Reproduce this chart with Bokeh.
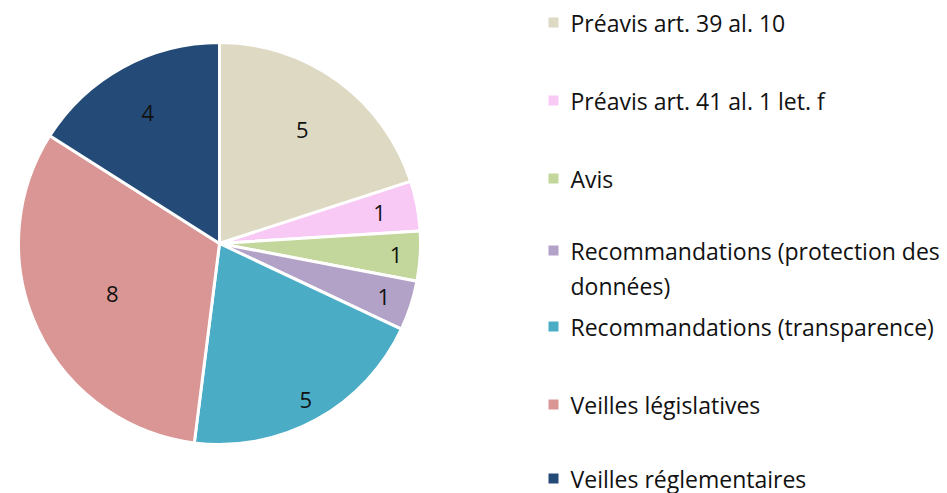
import math
from bokeh.plotting import figure
from bokeh.models import Range1d, ColumnDataSource
from bokeh.core.properties import value
from bokeh.embed import file_html
from bokeh.resources import INLINE

# ---- data ----
categories = [
    "Préavis art. 39 al. 10",
    "Préavis art. 41 al. 1 let. f",
    "Avis",
    "Recommandations (protection des données)",
    "Recommandations (transparence)",
    "Veilles législatives",
    "Veilles réglementaires",
]
counts = [5, 1, 1, 1, 5, 8, 4]
legend_lines = [
    ["Préavis art. 39 al. 10"],
    ["Préavis art. 41 al. 1 let. f"],
    ["Avis"],
    ["Recommandations (protection des", "données)"],
    ["Recommandations (transparence)"],
    ["Veilles législatives"],
    ["Veilles réglementaires"],
]

# ---- styles / layout ----
colors = ["#DDD9C3", "#F9C9F6", "#C3D69B", "#B3A2C7", "#4BACC6", "#D99694", "#244B78"]
W, H = 947, 493
cx, cy_s, R = 219, 243, 201
label_frac = [0.70, 0.81, 0.88, 0.86, 0.89, 0.59, 0.74]
legend_y = [22, 100, 178, 250, 326, 404, 478]
line_h = 35
FONT = "Open Sans"

p = figure(width=W, height=H, output_backend="svg", toolbar_location=None,
           x_range=Range1d(0, W), y_range=Range1d(0, H), min_border=0)
p.axis.visible = False
p.grid.visible = False
p.outline_line_color = None
p.background_fill_color = "white"
p.border_fill_color = "white"

total = sum(counts)
starts, ends, lx, ly = [], [], [], []
cum = 0
for i, c in enumerate(counts):
    a0 = cum / total * 2 * math.pi
    cum += c
    a1 = cum / total * 2 * math.pi
    # clockwise from 12 o'clock
    starts.append(math.pi / 2 - a1)
    ends.append(math.pi / 2 - a0)
    mid = (a0 + a1) / 2
    r = R * label_frac[i]
    lx.append(cx + r * math.sin(mid))
    ly.append(H - (cy_s - r * math.cos(mid)))

src = ColumnDataSource(dict(s=starts, e=ends, color=colors,
                            lx=lx, ly=ly, txt=[str(c) for c in counts]))
p.wedge(x=cx, y=H - cy_s, radius=R, start_angle="s", end_angle="e",
        fill_color="color", line_color="white", line_width=3, source=src)
p.text(x="lx", y="ly", text="txt", source=src, text_align="center",
       text_baseline="middle", text_font=value(FONT), text_font_size="22px",
       text_color="#111111")

# ---- legend ----
sq_x, tx = 553, 570
p.rect(x=[sq_x] * len(categories), y=[H - y for y in legend_y], width=10, height=10,
       fill_color=colors, line_color=None)
tx_list, ty_list, tt_list = [], [], []
for i, lines in enumerate(legend_lines):
    for j, t in enumerate(lines):
        tx_list.append(tx)
        ty_list.append(H - (legend_y[i] + j * line_h))
        tt_list.append(t)
p.text(x=tx_list, y=ty_list, text=tt_list, text_align="left", text_baseline="middle",
       text_font=value(FONT), text_font_size="23px", text_color="#111111")

open("out.html", "w").write(file_html(p, INLINE))
